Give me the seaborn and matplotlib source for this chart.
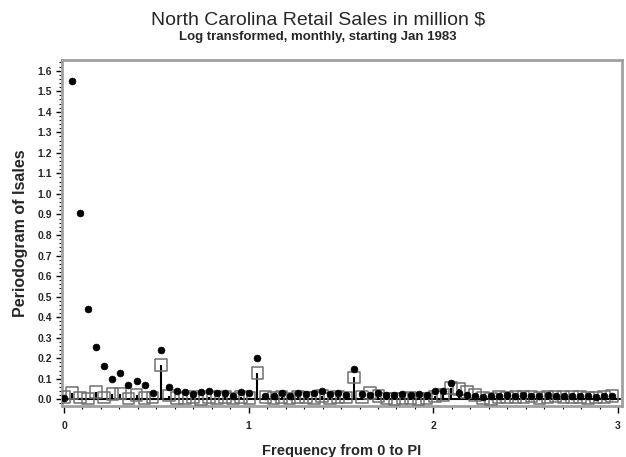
import numpy as np
import pandas as pd
import seaborn as sns
import matplotlib.pyplot as plt
from matplotlib.ticker import MultipleLocator

# periodogram ordinates, k = 0..68, n = 144 months
n_obs = 144
freq = 2 * np.pi * np.arange(69) / n_obs

p_lsales = [0.005, 1.552, 0.905, 0.442, 0.255, 0.162, 0.098, 0.126, 0.072, 0.088,
            0.070, 0.032, 0.238, 0.060, 0.040, 0.036, 0.026, 0.036, 0.040, 0.030,
            0.032, 0.016, 0.034, 0.030, 0.203, 0.016, 0.018, 0.032, 0.016, 0.030,
            0.024, 0.030, 0.040, 0.028, 0.030, 0.022, 0.146, 0.028, 0.020, 0.032,
            0.020, 0.020, 0.024, 0.020, 0.024, 0.020, 0.040, 0.038, 0.080, 0.030,
            0.020, 0.016, 0.012, 0.018, 0.016, 0.020, 0.016, 0.022, 0.018, 0.016,
            0.020, 0.016, 0.018, 0.014, 0.016, 0.016, 0.012, 0.016, 0.018]

p_resid = [0.010, 0.032, 0.008, 0.004, 0.036, 0.008, 0.025, 0.028, 0.004, 0.022,
           0.006, 0.008, 0.166, 0.018, 0.006, 0.004, 0.010, 0.000, 0.010, 0.006,
           0.012, 0.004, 0.010, 0.006, 0.128, 0.010, 0.006, 0.012, 0.004, 0.010,
           0.008, 0.006, 0.016, 0.004, 0.010, 0.008, 0.107, 0.012, 0.030, 0.016,
           0.004, 0.002, 0.004, 0.006, 0.002, 0.004, 0.014, 0.020, 0.055, 0.050,
           0.036, 0.020, 0.006, 0.000, 0.012, 0.008, 0.010, 0.012, 0.014, 0.006,
           0.010, 0.014, 0.012, 0.010, 0.012, 0.006, 0.008, 0.010, 0.016]

df = pd.DataFrame({'freq': freq, 'lsales': p_lsales, 'resid': p_resid})

sns.set_style('white')
plt.rcParams['font.family'] = ['Liberation Sans', 'DejaVu Sans']

fig = plt.figure(figsize=(6.26, 4.57), dpi=100)
ax = fig.add_axes([0.099, 0.1116, 0.8946, 0.7571])

# needles from zero for the square series
ax.axhline(0, xmin=0.003, xmax=0.997, color='black', lw=1.5, zorder=2)
ax.vlines(df['freq'], 0, df['resid'], color='black', lw=1.5, zorder=2)
sns.scatterplot(data=df, x='freq', y='resid', marker='s', s=70,
                facecolor='none', edgecolor='#707070', linewidth=1.1, ax=ax, zorder=3)
sns.scatterplot(data=df, x='freq', y='lsales', marker='o', s=24,
                color='black', edgecolor='black', linewidth=0.5, ax=ax, zorder=4)

ax.set_xlim(-0.011, 3.021)
ax.set_ylim(-0.0326, 1.652)
ax.xaxis.set_major_locator(MultipleLocator(1))
ax.xaxis.set_minor_locator(MultipleLocator(0.1))
ax.yaxis.set_major_locator(MultipleLocator(0.1))
ax.yaxis.set_minor_locator(MultipleLocator(0.02))
ax.yaxis.set_major_formatter(plt.FuncFormatter(lambda v, p: f'{v:.1f}'))
ax.xaxis.set_major_formatter(plt.FuncFormatter(lambda v, p: f'{v:.0f}'))

ax.tick_params(axis='both', which='major', direction='out', length=4, width=1,
               color='black', labelsize=7.5, bottom=True, left=True, pad=3)
ax.tick_params(axis='both', which='minor', direction='out', length=2.5, width=0.8,
               color='black', bottom=True, left=True)
ax.tick_params(axis='x', which='major', length=5, pad=6)
for lab in ax.get_xticklabels() + ax.get_yticklabels():
    lab.set_fontweight('bold')

for sp in ax.spines.values():
    sp.set_color('#a0a0a0')
    sp.set_linewidth(2)

ax.set_xlabel('Frequency from 0 to PI', fontsize=10.5, fontweight='bold', labelpad=9)
ax.set_ylabel('Periodogram of lsales', fontsize=11.5, fontweight='bold', labelpad=7)

fig.text(0.508, 0.957, 'North Carolina Retail Sales in million $', ha='center',
         va='center', fontsize=14)
fig.text(0.508, 0.918, 'Log transformed, monthly, starting Jan 1983', ha='center',
         va='center', fontsize=9.5, fontweight='bold')

fig.savefig('out.png', dpi=100)
